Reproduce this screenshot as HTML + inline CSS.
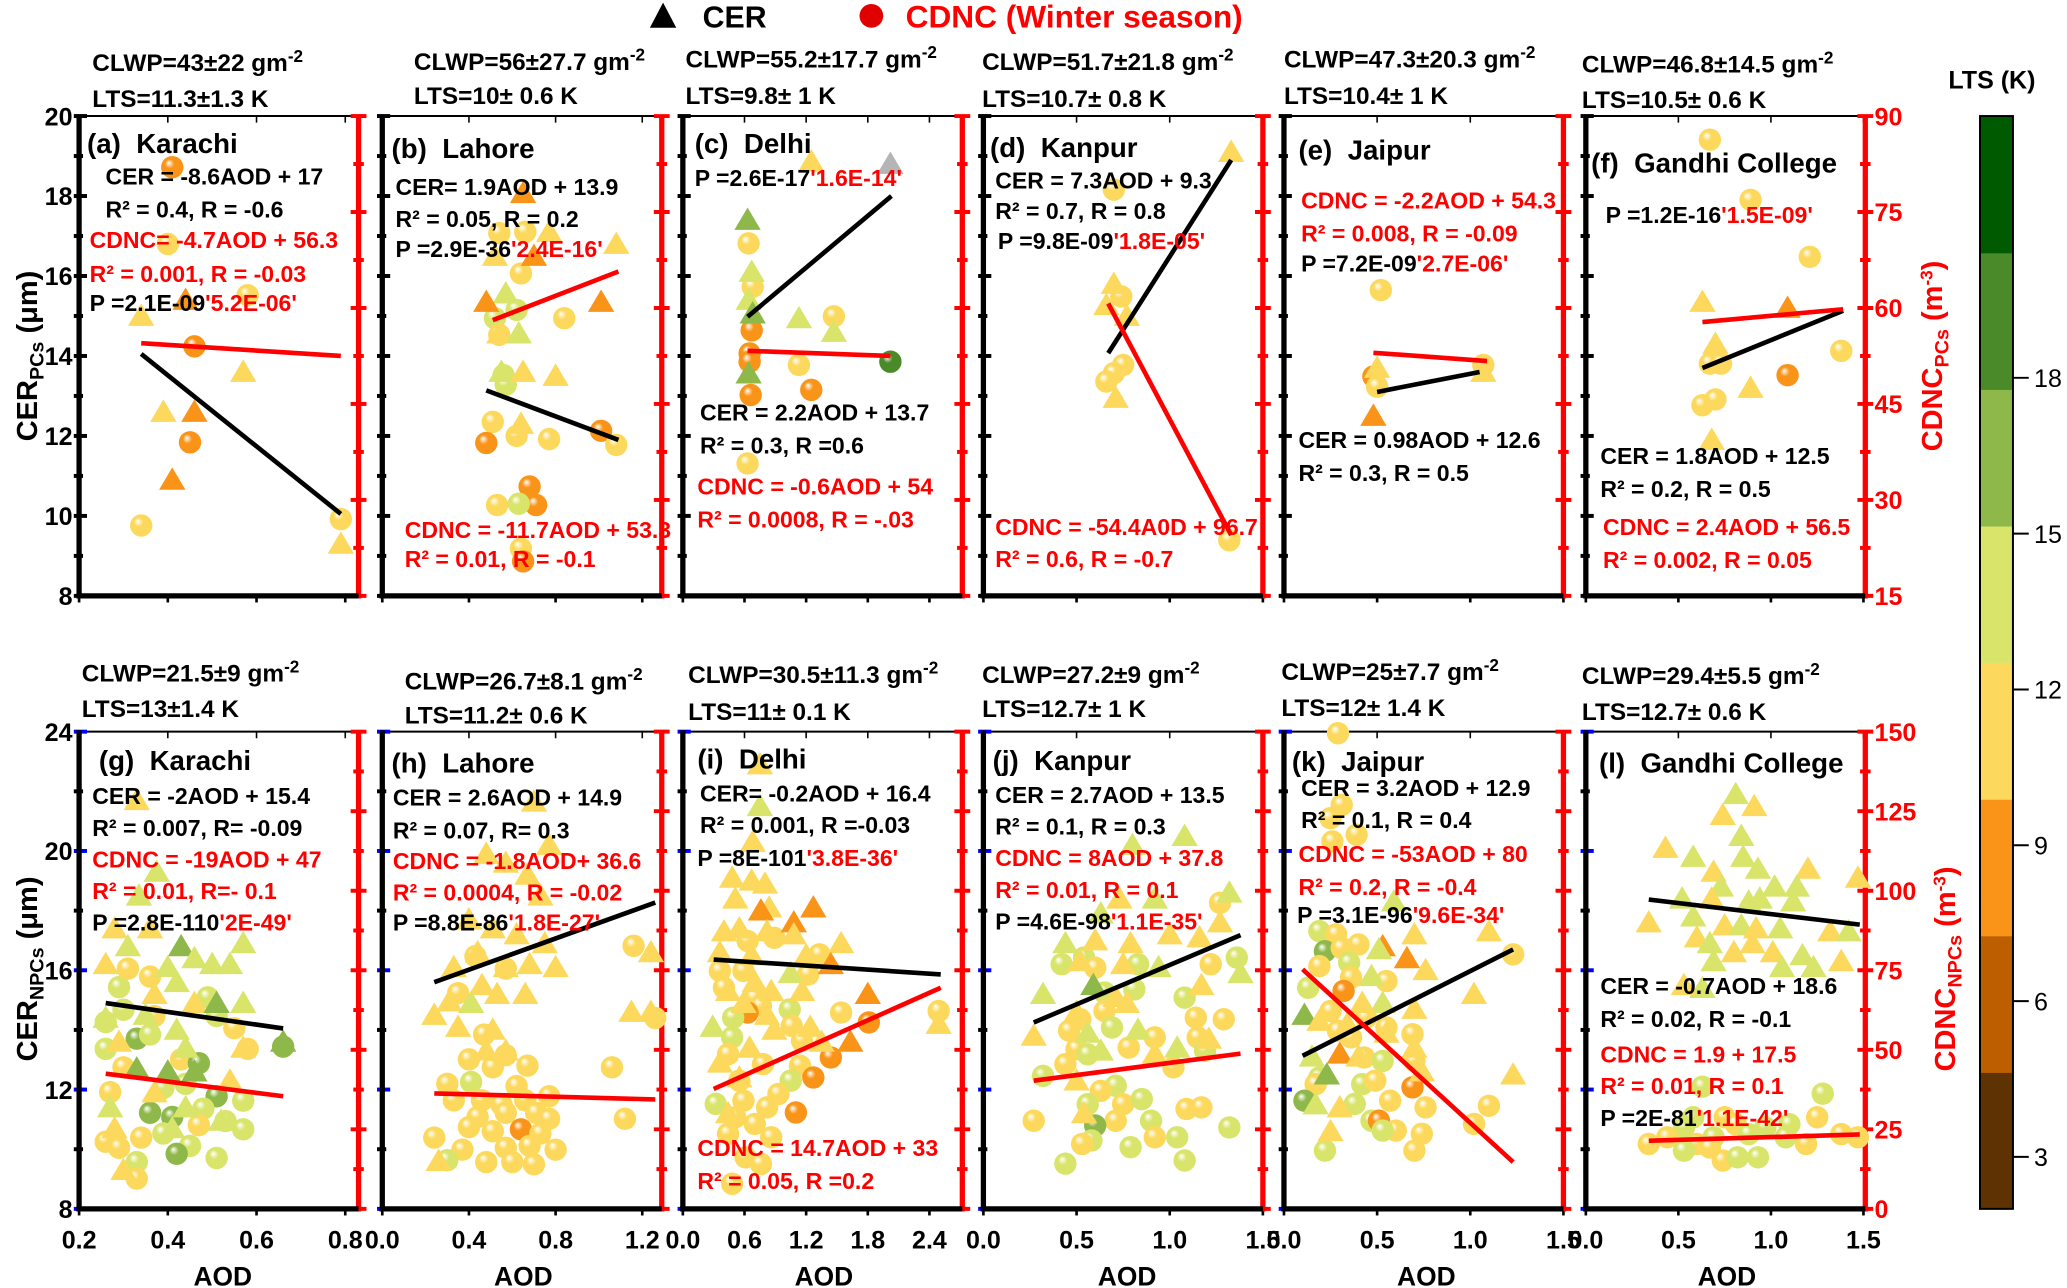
<!DOCTYPE html>
<html><head><meta charset="utf-8">
<style>
html,body{margin:0;padding:0;background:#fff;}
svg{display:block;font-family:"Liberation Sans",Arial,sans-serif;font-weight:bold;}
</style></head>
<body>
<svg id="fig" xmlns="http://www.w3.org/2000/svg" width="2067" height="1288" viewBox="0 0 1568 977">
<defs id="defs"></defs>
<g id="marks"></g>
<g id="texts"></g>
</svg>
<script>
// ---------- DATA: triangles [AOD, CER, LTS], circles [AOD, CDNC, LTS], lines [[AOD,val],[AOD,val]] ----------
const triA=[[.34,15.0,11],[.44,15.4,8.5],[.57,13.6,11],[.39,12.6,11],[.46,12.6,8.5],[.41,10.9,8.5],[.79,9.3,11]];
const cirA=[[.41,82,8.5],[.40,70,11],[.58,62,11],[.46,54,8.5],[.45,39,8.5],[.34,26,11],[.79,27,11]];
const lineCerA=[[.34,14.05],[.79,10.05]], lineCdncA=[[.34,54.5],[.79,52.5]];

const triB=[[.65,18.07,8.5],[.77,17.1,11],[1.08,16.8,11],[.70,16.5,8.5],[.52,16.5,11],[.57,15.56,14],[.48,15.35,8.5],[1.01,15.35,8.5],[.54,14.56,11],[.63,14.56,14],[.55,13.6,14],[.65,13.6,11],[.80,13.5,11],[.64,12.3,11]];
const cirB=[[.54,71.7,11],[.66,71.9,11],[.64,65.4,11],[.52,58.4,14],[.62,59.7,14],[.84,58.4,11],[.54,55.8,11],[.56,49.5,14],[.57,48,14],[.51,42.2,11],[.62,40,11],[.77,39.5,11],[.48,38.9,8.5],[1.01,40.8,8.5],[1.08,38.6,11],[.68,32.1,8.5],[.71,29.2,8.5],[.63,29.4,14],[.53,29.2,11],[.64,22.4,11],[.65,20.4,8.5]];
const lineCerB=[[.48,13.14],[1.09,11.9]], lineCdncB=[[.51,58.1],[1.09,65.7]];

const triC=[[1.25,18.86,11],[2.02,18.8,0],[.63,17.4,16.5],[.67,16.1,14],[.64,15.4,14],[.68,15.06,16.5],[1.13,14.94,14],[1.47,14.6,14],[.64,13.56,16.5]];
const cirC=[[.64,70.1,11],[.68,63.3,11],[1.47,58.7,11],[.67,56.5,8.5],[.65,52.9,8.5],[.65,51.6,8.5],[1.13,51.1,11],[2.02,51.6,19],[.66,46.4,8.5],[1.25,47.2,8.5],[.63,35.7,11]];
const lineCerC=[[.63,14.98],[2.03,18.0]], lineCdncC=[[.63,53.3],[2.02,52.5]];

const triD=[[1.33,19.1,11],[.70,15.8,11],[.66,15.27,11],[.77,15.0,11],[.71,12.95,11]];
const cirD=[[.70,78.5,11],[.74,61.8,11],[.75,51.1,11],[.70,49.8,11],[.66,48.5,11],[1.32,23.7,11]];
const lineCerD=[[.67,14.07],[1.33,18.9]], lineCdncD=[[.67,60.7],[1.33,24.5]];

const triE=[[.50,13.7,11],[1.07,13.6,11],[.48,12.5,8.5]];
const cirE=[[.52,62.8,11],[.48,49.3,8.5],[.50,47.7,11],[1.07,51.1,11]];
const lineCerE=[[.50,13.1],[1.05,13.6]], lineCdncE=[[.48,53],[1.09,51.7]];

const triF=[[.63,15.35,11],[1.09,15.2,8.5],[.89,13.2,11],[.68,11.9,11],[.70,14.3,11]];
const cirF=[[.67,86.3,11],[.89,76.9,11],[1.21,68,11],[1.38,53.3,11],[.67,51.3,11],[.73,51.3,11],[1.09,49.5,8.5],[.63,44.8,11],[.70,45.7,11]];
const lineCerF=[[.63,13.7],[1.39,15.13]], lineCdncF=[[.63,57.8],[1.39,59.8]];

const triG=[[.33,21.7,11],[.375,19.3,14],[.335,18.5,14],[.28,17.4,11],[.31,16.8,14],[.36,17.4,11],[.43,16.8,16.5],[.46,16.4,14],[.50,16.2,14],[.54,16.2,14],[.57,16.9,14],[.26,16.2,11],[.40,16.1,14],[.42,15.6,14],[.37,15.2,11],[.46,14.9,11],[.51,14.9,16.5],[.57,14.9,14],[.26,14.4,14],[.35,14.5,14],[.42,14.0,14],[.29,13.6,11],[.44,13.4,14],[.66,13.6,16.5],[.57,13.4,11],[.33,12.7,16.5],[.40,12.6,16.5],[.46,12.6,16.5],[.54,12.3,11],[.27,11.4,14],[.37,11.9,11],[.44,11.4,14],[.52,10.95,14],[.28,10.7,11],[.41,10.7,14],[.30,9.3,11]];
const cirG=[[.29,69.7,14],[.31,75.5,11],[.36,73,11],[.26,58.7,14],[.30,62.6,14],[.37,60.6,11],[.26,50.3,14],[.33,53.5,16.5],[.30,44.5,11],[.36,54.8,14],[.43,47,11],[.47,45.8,16.5],[.49,66.5,14],[.51,60.6,14],[.55,56.8,11],[.58,50.3,11],[.66,51,16.5],[.39,38,14],[.44,39.3,14],[.51,35.4,16.5],[.57,34,14],[.27,36.7,11],[.36,30.2,16.5],[.41,28.9,16.5],[.48,31.5,14],[.47,26.3,11],[.53,27.6,14],[.57,25,14],[.26,21.1,11],[.29,19.2,11],[.34,22.4,11],[.39,23.7,14],[.45,19.8,14],[.42,17.3,16.5],[.51,16,14],[.33,14.7,14],[.33,9.5,11]];
const lineCerG=[[.26,14.9],[.66,14.05]], lineCdncG=[[.26,42.5],[.66,35.4]];

const triH=[[.70,21.65,11],[.48,19.9,11],[.57,19.6,11],[.77,20.2,11],[.67,19.2,11],[.73,18.5,11],[.40,17.7,11],[.51,17.4,11],[.62,17.2,11],[.75,16.9,11],[.44,16.6,11],[.33,16.1,11],[.57,16.1,11],[.68,16.2,11],[.80,16.1,11],[.46,15.5,11],[.53,15.2,11],[.66,15.2,11],[.31,14.95,11],[.41,14.9,14],[1.24,16.6,11],[.24,14.5,11],[.35,14.1,11],[1.15,14.6,11],[1.24,14.6,11],[.51,14.0,11],[.48,13.3,11],[.57,13.3,11],[.26,9.6,11]];
const cirH=[[1.16,82.7,11],[1.26,60,11],[.43,79.4,11],[.57,75.5,11],[.35,67.8,11],[.47,54.8,11],[.40,47,11],[.57,48.3,11],[.67,45,11],[.51,44.5,11],[1.06,44.5,11],[.30,39.3,11],[.62,38.6,11],[.41,39.9,14],[.33,34.1,11],[.46,34.1,11],[.55,32.8,11],[.66,34.1,11],[.77,35.4,11],[.44,28.9,11],[.57,30.2,11],[.71,30.2,11],[.77,28.3,11],[1.12,28.3,11],[.24,22.4,11],[.40,25.7,11],[.51,24.4,11],[.64,25,8.5],[.73,23.7,11],[.37,18.6,11],[.57,19.2,11],[.68,19.8,11],[.80,18.6,11],[.48,14.7,11],[.60,14.7,11],[.70,14,11],[.30,15.3,14]];
const lineCerH=[[.24,15.6],[1.26,18.27]], lineCdncH=[[.24,36.3],[1.26,34.4]];

const triI=[[.75,22.9,11],[.75,21.5,14],[.68,20.3,11],[.48,19.1,11],[.67,19.0,11],[.80,18.9,11],[.51,18.4,11],[.84,18.1,11],[.76,18.0,8.5],[1.27,18.1,8.5],[1.08,17.6,8.5],[.40,17.3,11],[.55,17.4,11],[.82,17.3,11],[1.08,17.2,11],[1.54,16.9,11],[.36,16.6,11],[.67,16.5,11],[1.20,16.5,11],[1.44,16.2,8.5],[1.05,15.9,14],[.70,15.6,11],[.44,15.3,11],[.86,15.3,11],[1.16,15.3,11],[1.80,15.2,8.5],[.59,14.9,11],[.82,14.5,11],[.29,14.1,14],[.89,14.0,11],[1.24,14.1,11],[2.49,14.2,11],[1.63,13.6,8.5],[.65,13.4,11],[.36,12.9,11],[1.35,13.6,11],[.55,12.4,11],[.44,11.2,11]];
const cirI=[[.63,84.2,11],[.89,85.2,11],[1.33,80,11],[.36,74.8,11],[.59,74.8,11],[1.22,73.7,11],[.40,69.5,11],[.70,66.4,11],[.76,63.8,11],[.63,61.7,8.5],[.49,60.1,14],[1.04,62.7,14],[1.06,57.5,11],[1.54,61.7,11],[1.81,58.6,8.5],[2.49,62.2,11],[.48,53.9,14],[1.16,52.8,11],[.44,48.6,11],[.78,45.5,11],[1.44,47.6,8.5],[1.14,45.0,11],[.55,40.3,11],[1.05,40.3,14],[1.27,41.3,8.5],[.32,33,14],[.59,34,11],[.82,31.9,11],[.93,36.1,11],[.51,28.8,11],[.70,26.7,11],[1.10,30.3,8.5],[.44,23.6,11],[.86,22.5,11],[.61,16.2,11],[.76,14.1,11],[.48,7.9,11]];
const lineCerI=[[.30,16.36],[2.51,15.86]], lineCdncI=[[.30,37.7],[2.51,69.5]];

const triJ=[[1.08,20.5,14],[.80,20.2,14],[1.32,18.6,14],[.73,18.4,11],[.92,18.4,14],[.63,17.9,14],[1.27,17.6,11],[.44,16.9,14],[.60,17.0,11],[.79,16.9,11],[1.0,17.2,11],[1.16,17.1,11],[.52,16.3,11],[.75,16.2,11],[.94,16.1,14],[1.38,15.9,14],[.59,15.5,16.5],[1.17,15.5,11],[.32,15.2,14],[.71,15.1,11],[.50,14.6,11],[.77,14.9,11],[.27,13.8,11],[.56,13.9,14],[.83,14.0,14],[1.21,13.7,11],[.63,13.3,14],[1.04,13.4,14],[.92,13.2,11],[.50,12.3,11],[.54,11.2,11]];
const cirJ=[[1.27,96.2,11],[.42,76.9,14],[.54,79,14],[.60,75.8,11],[.83,76.9,14],[1.22,76.9,11],[1.36,79,14],[.65,68,14],[.81,69,14],[1.08,66.4,14],[.52,59.6,11],[.65,62.2,11],[1.14,60.1,11],[1.29,59.6,11],[.46,56,11],[.69,57,14],[.92,53.9,11],[1.15,53.9,11],[.50,50.2,11],[.78,50.7,11],[.56,48.6,14],[1.19,49.7,14],[.32,41.8,14],[.44,45.5,11],[1.02,44.5,11],[.71,38.7,14],[.63,37.1,11],[.56,32.9,14],[.75,32.9,11],[.85,34.5,14],[1.09,31.4,11],[1.17,31.9,11],[.27,27.7,11],[.71,27.7,11],[.90,27.7,14],[.60,26.2,16.5],[.58,21.5,14],[.79,19.4,14],[.92,22.5,11],[1.04,22.5,14],[1.32,25.6,14],[.53,20.4,11],[.44,14.2,14],[1.08,15.2,14]];
const lineCerJ=[[.27,14.25],[1.38,17.18]], lineCdncJ=[[.27,40.3],[1.38,48.8]];

const triK=[[.59,18.3,14],[1.10,17.3,11],[.70,17.2,11],[.53,16.8,8.5],[.66,16.4,8.5],[.51,16.7,14],[.76,16.0,11],[.47,15.8,14],[1.02,15.2,11],[.11,14.5,16.5],[.53,14.9,14],[.42,14.9,11],[.70,14.7,11],[.19,14.3,11],[.34,14.2,11],[.55,13.9,11],[.70,13.4,11],[.30,13.2,8.5],[.15,13.1,14],[.40,13.1,11],[.23,12.5,16.5],[.17,11.5,14],[.30,11.4,11],[.25,10.6,11],[1.23,12.5,11],[.74,12.6,11]];
const cirK=[[.29,149.5,11],[.31,127,11],[.25,122.8,11],[.39,117.6,11],[.26,115.5,11],[.19,87.3,14],[.28,86.3,11],[.22,81,16.5],[.40,83.1,11],[.31,82,11],[.35,77.4,14],[.19,76.3,11],[.55,71.6,11],[.36,72.7,11],[.13,69.5,14],[.32,68.5,8.5],[1.23,80,11],[.25,62.2,11],[.44,60.1,11],[.29,56,11],[.55,57,11],[.69,54.9,11],[.36,53.9,11],[.43,47.6,11],[.70,46.5,11],[.53,46.5,14],[.19,41.3,14],[.42,39.2,14],[.69,38.2,8.5],[.17,39.2,11],[.49,40.3,11],[.11,34,16.5],[.38,33,14],[.57,34,11],[.76,31.9,11],[1.10,32.4,11],[.47,27.7,14],[.51,27.7,8.5],[.60,24.6,11],[.53,24.6,14],[.74,23.6,11],[1.02,26.7,11],[.22,18.3,14],[.70,18.3,11]];
const lineCerK=[[.10,13.13],[1.23,16.7]], lineCdncK=[[.10,75.3],[1.23,14.7]];

const triL=[[.81,21.9,14],[.91,21.5,11],[.74,21.2,11],[.84,20.5,14],[.43,20.1,11],[.58,19.8,14],[.85,19.8,14],[.69,19.3,11],[.93,19.4,14],[1.20,19.4,11],[1.47,19.1,11],[.73,18.8,14],[1.02,18.8,14],[1.14,18.8,14],[.52,18.4,14],[.68,18.4,11],[.88,18.3,14],[.94,18.4,14],[1.12,18.3,14],[.34,17.6,11],[.58,17.8,14],[.75,17.5,11],[.84,17.5,14],[.92,17.4,11],[1.05,17.4,14],[1.32,17.3,11],[1.42,17.3,14],[.60,17.1,11],[.67,16.9,14],[.90,16.9,11],[.80,16.6,11],[1.01,16.6,11],[1.17,16.5,14],[.69,16.3,14],[1.38,16.3,11],[1.06,16.1,14],[1.23,16.1,14],[.63,15.4,14],[.53,15.5,11]];
const cirL=[[.63,38.4,14],[1.28,36.2,14],[1.25,28.8,11],[.53,25.6,14],[.58,28.8,14],[.75,28.8,11],[.97,25.6,14],[1.10,26.6,14],[.81,26.6,11],[.34,20.4,11],[.44,22.5,11],[.60,20.4,11],[.69,22.5,14],[.88,23.5,14],[1.08,22.5,14],[1.19,20.4,11],[1.38,23.5,11],[1.47,22.5,11],[.53,18.3,14],[.74,15.2,11],[.82,16.2,14],[.93,16.2,14],[.67,19.3,11]];
const lineCerL=[[.34,18.37],[1.48,17.53]], lineCdncL=[[.34,21.4],[1.48,23.4]];

// tick labels
const xTicksAG=[0.2,0.4,0.6,0.8], xTicksBH=[0,0.4,0.8,1.2], xTicksCI=[0,0.6,1.2,1.8,2.4], xTicksDJ=[0,0.5,1.0,1.5];
const cerTicksTop=[8,10,12,14,16,18,20], cerTicksBot=[8,12,16,20,24];
const cdncTicksTop=[15,30,45,60,75,90], cdncTicksBot=[0,25,50,75,100,125,150];
const ltsTicks=[3,6,9,12,15,18];
const ltsBandColors=["#5e3203","#bd5e00","#fa9418","#fcd95c","#d8e46a","#8fb84a","#4a8a28","#005a00"];
const ltsMin=2.0, ltsBand=2.63;

// ---------- rendering ----------
const NS="http://www.w3.org/2000/svg";
const svg=document.getElementById('fig'), marks=document.getElementById('marks'), texts=document.getElementById('texts'), defs=document.getElementById('defs');
function mk(tag,attrs,parent){const e=document.createElementNS(NS,tag);for(const k in attrs)e.setAttribute(k,attrs[k]);(parent||marks).appendChild(e);return e;}
function ltsColor(v){if(!v)return "#b5b5b5";let i=Math.floor((v-ltsMin)/ltsBand);i=Math.max(0,Math.min(7,i));return ltsBandColors[i];}
ltsBandColors.concat(["#b5b5b5"]).forEach((c,i)=>{
  const g=mk('radialGradient',{id:'gr'+i,cx:'0.45',cy:'0.45',r:'0.6',fx:'0.35',fy:'0.3'},defs);
  mk('stop',{offset:'0',"stop-color":'#ffffff'},g);
  mk('stop',{offset:'0.35',"stop-color":c},g);
  mk('stop',{offset:'1',"stop-color":c},g);
});
function gradId(c){const i=ltsBandColors.indexOf(c);return 'url(#gr'+(i<0?8:i)+')';}

const W=212;
const rows=[{y0:88,y1:452,cer:[8,20],cdnc:[15,90],cerT:cerTicksTop,cdT:cdncTicksTop},
            {y0:555,y1:917,cer:[8,24],cdnc:[0,150],cerT:cerTicksBot,cdT:cdncTicksBot}];
const panels=[
 {k:'a',row:0,x0:60,xd:[0.2,0.83],xt:xTicksAG,tri:triA,cir:cirA,lc:lineCerA,ld:lineCdncA},
 {k:'b',row:0,x0:290,xd:[0,1.29],xt:xTicksBH,tri:triB,cir:cirB,lc:lineCerB,ld:lineCdncB},
 {k:'c',row:0,x0:518,xd:[0,2.72],xt:xTicksCI,tri:triC,cir:cirC,lc:lineCerC,ld:lineCdncC},
 {k:'d',row:0,x0:746,xd:[0,1.5],xt:xTicksDJ,tri:triD,cir:cirD,lc:lineCerD,ld:lineCdncD},
 {k:'e',row:0,x0:974,xd:[0,1.5],xt:xTicksDJ,tri:triE,cir:cirE,lc:lineCerE,ld:lineCdncE},
 {k:'f',row:0,x0:1203,xd:[0,1.51],xt:xTicksDJ,tri:triF,cir:cirF,lc:lineCerF,ld:lineCdncF},
 {k:'g',row:1,x0:60,xd:[0.2,0.83],xt:xTicksAG,tri:triG,cir:cirG,lc:lineCerG,ld:lineCdncG},
 {k:'h',row:1,x0:290,xd:[0,1.29],xt:xTicksBH,tri:triH,cir:cirH,lc:lineCerH,ld:lineCdncH},
 {k:'i',row:1,x0:518,xd:[0,2.72],xt:xTicksCI,tri:triI,cir:cirI,lc:lineCerI,ld:lineCdncI},
 {k:'j',row:1,x0:746,xd:[0,1.5],xt:xTicksDJ,tri:triJ,cir:cirJ,lc:lineCerJ,ld:lineCdncJ},
 {k:'k',row:1,x0:974,xd:[0,1.5],xt:xTicksDJ,tri:triK,cir:cirK,lc:lineCerK,ld:lineCdncK},
 {k:'l',row:1,x0:1203,xd:[0,1.51],xt:xTicksDJ,tri:triL,cir:cirL,lc:lineCerL,ld:lineCdncL}
];

panels.forEach(p=>{
  const r=rows[p.row];
  const sx=v=>p.x0+(v-p.xd[0])/(p.xd[1]-p.xd[0])*W;
  const sy=v=>r.y1-(v-r.cer[0])/(r.cer[1]-r.cer[0])*(r.y1-r.y0);
  const sd=v=>r.y1-(v-r.cdnc[0])/(r.cdnc[1]-r.cdnc[0])*(r.y1-r.y0);
  const g=mk('g',{});
  
  
  const top=mk('line',{x1:p.x0,y1:r.y0,x2:p.x0+W,y2:r.y0,stroke:'#000','stroke-width':1.5},g);
  
  
  p.xt.forEach(t=>{
    const x=sx(t);
    const tk=mk('line',{x1:x,y1:r.y1,x2:x,y2:r.y1+5,stroke:'#000','stroke-width':2},g);
    
    
    mk('line',{x1:x,y1:r.y0,x2:x,y2:r.y0+5,stroke:'#000','stroke-width':1.2},g);
    if(p.row===1){
      const lb=mk('text',{x:x,y:947,'text-anchor':'middle','font-size':19,fill:'#000'},texts);
      lb.textContent=t.toFixed(1);
      
      
    }
  });
  const cerMinor=p.row===0?1:2;
  for(let v=r.cer[0];v<=r.cer[1]+1e-6;v+=cerMinor){
    const y=sy(v); const major=r.cerT.indexOf(v)>=0;
    const col=(p.row===1&&major)?'#0000ff':'#000';
    const tk=mk('line',{x1:p.x0-4,y1:y,x2:p.x0+(major?6:3),y2:y,stroke:col,'stroke-width':3},g);
    
    
  }
  const cdStep=(r.cdT[1]-r.cdT[0])/2;
  for(let v=r.cdnc[0];v<=r.cdnc[1]+1e-6;v+=cdStep){
    const y=sd(v); const major=r.cdT.indexOf(v)>=0;
    const tk=mk('line',{x1:p.x0+W-(major?6:4),y1:y,x2:p.x0+W+(major?6:4),y2:y,stroke:'#ff0000','stroke-width':3},g);
    
    
  }
  const la=mk('line',{x1:p.x0,y1:r.y0-1,x2:p.x0,y2:r.y1+2,stroke:'#000','stroke-width':4},g);
  
  
  const ra=mk('line',{x1:p.x0+W,y1:r.y0-1,x2:p.x0+W,y2:r.y1+2,stroke:'#ff0000','stroke-width':4},g);
  
  
  const ba=mk('line',{x1:p.x0-2,y1:r.y1,x2:p.x0+W,y2:r.y1,stroke:'#000','stroke-width':4},g);
  
  
  p.cir.forEach(d=>{
    const c=ltsColor(d[2]);
    const e=mk('circle',{cx:sx(d[0]),cy:sd(d[1]),r:8.5,fill:gradId(c)},g);
    
    
  });
  p.tri.forEach(d=>{
    const c=ltsColor(d[2]); const x=sx(d[0]), y=sy(d[1]);
    const e=mk('polygon',{points:`${x},${y-9.5} ${x-10},${y+7.5} ${x+10},${y+7.5}`,fill:c},g);
    
    
  });
  const l1=mk('line',{x1:sx(p.lc[0][0]),y1:sy(p.lc[0][1]),x2:sx(p.lc[1][0]),y2:sy(p.lc[1][1]),stroke:'#000','stroke-width':3.5},g);
  
  
  const l2=mk('line',{x1:sx(p.ld[0][0]),y1:sd(p.ld[0][1]),x2:sx(p.ld[1][0]),y2:sd(p.ld[1][1]),stroke:'#ff0000','stroke-width':3.5},g);
  
  
});

[0,1].forEach(ri=>{
  const r=rows[ri];
  const sy=v=>r.y1-(v-r.cer[0])/(r.cer[1]-r.cer[0])*(r.y1-r.y0);
  const sd=v=>r.y1-(v-r.cdnc[0])/(r.cdnc[1]-r.cdnc[0])*(r.y1-r.y0);
  r.cerT.forEach(v=>{
    const t=mk('text',{x:55,y:sy(v)+7,'text-anchor':'end','font-size':19,fill:'#000'},texts);
    t.textContent=v;
    
    
  });
  r.cdT.forEach(v=>{
    const t=mk('text',{x:1422,y:sd(v)+7,'text-anchor':'start','font-size':19,fill:'#ff0000'},texts);
    t.textContent=v;
    
    
  });
});

const cbTop=88, cbBot=917, cbH=(cbBot-cbTop)/8;
ltsBandColors.forEach((c,i)=>{
  const e=mk('rect',{x:1502,y:cbBot-(i+1)*cbH,width:25,height:cbH+0.5,fill:c});
  
  
});
const cbf=mk('rect',{x:1502,y:cbTop,width:25,height:cbBot-cbTop,fill:'none',stroke:'#000','stroke-width':1.5});


ltsTicks.forEach(v=>{
  const y=cbBot-(v-ltsMin)/(ltsBand*8)*(cbBot-cbTop);
  mk('line',{x1:1527,y1:y,x2:1539,y2:y,stroke:'#000','stroke-width':1.5});
  const t=mk('text',{x:1543,y:y+7,'font-size':19,'font-weight':'normal',fill:'#000'},texts);
  t.textContent=v;
  
  
});
</script>
<script>
const T=document.getElementById('texts');
function tx(x,y,parts,size,name){
  const t=document.createElementNS("http://www.w3.org/2000/svg",'text');
  t.setAttribute('x',x);t.setAttribute('y',y);t.setAttribute('font-size',size||16);
  
  
  parts.forEach(pp=>{const s=document.createElementNS("http://www.w3.org/2000/svg",'tspan');
    if(pp[1])s.setAttribute('fill',pp[1]); if(pp[2])s.setAttribute('dy',pp[2]); if(pp[3])s.setAttribute('font-size',pp[3]);
    s.textContent=pp[0];t.appendChild(s);});
  T.appendChild(t);return t;}
const R='#ff0000';
function clwp(x,y,val){tx(x,y,[['CLWP='+val+' gm'],['-2',null,-7,13]],18.5,'clwp-label');}
function lts(x,y,s){tx(x,y,[[s]],18.5,'lts-label');}
clwp(70,54,'43±22');lts(70,81,'LTS=11.3±1.3 K');
clwp(314,53,'56±27.7');lts(314,79,'LTS=10± 0.6 K');
clwp(520,51,'55.2±17.7');lts(520,79,'LTS=9.8± 1 K');
clwp(745,53,'51.7±21.8');lts(745,81,'LTS=10.7± 0.8 K');
clwp(974,51,'47.3±20.3');lts(974,79,'LTS=10.4± 1 K');
clwp(1200,55,'46.8±14.5');lts(1200,82,'LTS=10.5± 0.6 K');
clwp(62,517,'21.5±9');lts(62,544,'LTS=13±1.4 K');
clwp(307,523,'26.7±8.1');lts(307,549,'LTS=11.2± 0.6 K');
clwp(522,518,'30.5±11.3');lts(522,546,'LTS=11± 0.1 K');
clwp(745,518,'27.2±9');lts(745,544,'LTS=12.7± 1 K');
clwp(972,516,'25±7.7');lts(972,543,'LTS=12± 1.4 K');
clwp(1200,519,'29.4±5.5');lts(1200,546,'LTS=12.7± 0.6 K');
const SP='\u00a0\u00a0';
function title(x,y,a,b){tx(x,y,[[a+SP+b]],21,'panel-title');}
function L(x,y,s,c){tx(x,y+6,[[s,c]],17.5,'regression-text');}
function P(x,y,a,b){tx(x,y+6,[[a],[b,R]],17.5,'p-value-text');}
title(66,116,'(a)','Karachi');L(80,134,'CER = -8.6AOD + 17');L(80,159,'R² = 0.4, R = -0.6');L(68,182,'CDNC= -4.7AOD + 56.3',R);L(68,208,'R² = 0.001, R = -0.03',R);P(68,230,'P =2.1E-09',"'5.2E-06'");
title(297,120,'(b)','Lahore');L(300,142,'CER= 1.9AOD + 13.9');L(300,166,'R² = 0.05, R = 0.2');P(300,189,'P =2.9E-36',"'2.4E-16'");L(307,402,'CDNC = -11.7AOD + 53.3',R);L(307,424,'R² = 0.01, R = -0.1',R);
title(527,116,'(c)','Delhi');P(527,135,'P =2.6E-17',"'1.6E-14'");L(531,313,'CER = 2.2AOD + 13.7');L(531,338,'R² = 0.3,  R =0.6');L(529,369,'CDNC = -0.6AOD + 54',R);L(529,394,'R² = 0.0008, R = -.03',R);
title(751,119,'(d)','Kanpur');L(755,137,'CER = 7.3AOD + 9.3');L(755,160,'R² = 0.7, R = 0.8');P(757,183,'P =9.8E-09',"'1.8E-05'");L(755,400,'CDNC = -54.4A0D + 96.7',R);L(755,424,'R² = 0.6, R = -0.7',R);
title(985,121,'(e)','Jaipur');L(987,152,'CDNC = -2.2AOD + 54.3',R);L(987,177,'R² = 0.008, R = -0.09',R);P(987,200,'P =7.2E-09',"'2.7E-06'");L(985,334,'CER = 0.98AOD + 12.6');L(985,359,'R² = 0.3, R = 0.5');
title(1207,131,'(f)','Gandhi College');P(1218,163,'P =1.2E-16',"'1.5E-09'");L(1214,346,'CER = 1.8AOD + 12.5');L(1214,371,'R² = 0.2, R = 0.5');L(1216,400,'CDNC = 2.4AOD + 56.5',R);L(1216,425,'R² = 0.002, R = 0.05',R);
title(75,584,'(g)','Karachi');L(70,604,'CER = -2AOD + 15.4');L(70,628,'R² = 0.007, R= -0.09');L(70,652,'CDNC = -19AOD + 47',R);L(70,676,'R² = 0.01, R=- 0.1',R);P(70,700,'P =2.8E-110',"'2E-49'");
title(297,586,'(h)','Lahore');L(298,605,'CER = 2.6AOD + 14.9');L(298,630,'R² = 0.07,  R= 0.3');L(298,653,'CDNC = -1.8AOD+ 36.6',R);L(298,677,'R² = 0.0004, R = -0.02',R);P(298,700,'P =8.8E-86',"'1.8E-27'");
title(529,583,'(i)','Delhi');L(531,602,'CER= -0.2AOD + 16.4');L(531,626,'R² = 0.001, R =-0.03');P(529,651,'P =8E-101',"'3.8E-36'");L(529,871,'CDNC = 14.7AOD + 33',R);L(529,896,'R² = 0.05, R =0.2',R);
title(753,584,'(j)','Kanpur');L(755,603,'CER = 2.7AOD + 13.5');L(755,627,'R² = 0.1, R = 0.3');L(755,651,'CDNC = 8AOD + 37.8',R);L(755,675,'R² = 0.01, R = 0.1',R);P(755,699,'P =4.6E-98',"'1.1E-35'");
title(980,585,'(k)','Jaipur');L(987,598,'CER = 3.2AOD + 12.9');L(987,622,'R² = 0.1, R = 0.4');L(985,648,'CDNC = -53AOD + 80',R);L(985,673,'R² = 0.2, R = -0.4',R);P(984,694,'P =3.1E-96',"'9.6E-34'");
title(1213,586,'(l)','Gandhi College');L(1214,748,'CER = -0.7AOD + 18.6');L(1214,773,'R² = 0.02, R = -0.1');L(1214,800,'CDNC = 1.9 + 17.5',R);L(1214,824,'R² = 0.01, R = 0.1',R);P(1214,848,'P =2E-81',"'1.1E-42'");
[169,397,625,855,1082,1310].forEach(x=>{const t=tx(x,975,[['AOD']],20,'x-axis-title');t.setAttribute('text-anchor','middle');});
const S="http://www.w3.org/2000/svg";
const lt=document.createElementNS(S,'polygon');lt.setAttribute('points','503,2 493,21 513,21');lt.setAttribute('fill','#000');


T.appendChild(lt);
tx(533,21,[['CER']],23,'legend-cer-label');
const lc=document.createElementNS(S,'circle');lc.setAttribute('cx',661);lc.setAttribute('cy',12);lc.setAttribute('r',9);lc.setAttribute('fill','#e00000');


T.appendChild(lc);
tx(687,21,[['CDNC (Winter season)',R]],24,'legend-cdnc-label');
tx(1478,67,[['LTS (K)']],19,'colorbar-title');
function rot(x,y,parts,name){const t=tx(0,0,parts,22,name);t.setAttribute('transform',`translate(${x},${y}) rotate(-90)`);t.setAttribute('text-anchor','middle');}
rot(28,270,[['CER'],['PCs',null,5,15],[' (μm)',null,-5,22]],'y-axis-title-pcs');
rot(28,735,[['CER'],['NPCs',null,5,15],[' (μm)',null,-5,22]],'y-axis-title-npcs');
rot(1473,270,[['CDNC',R],['PCs',R,5,15],[' (m',R,-5,22],['-3',R,-7,13],[')',R,7,22]],'cdnc-axis-title-pcs');
rot(1483,735,[['CDNC',R],['NPCs',R,5,15],[' (m',R,-5,22],['-3',R,-7,13],[')',R,7,22]],'cdnc-axis-title-npcs');
</script>
</body></html>
